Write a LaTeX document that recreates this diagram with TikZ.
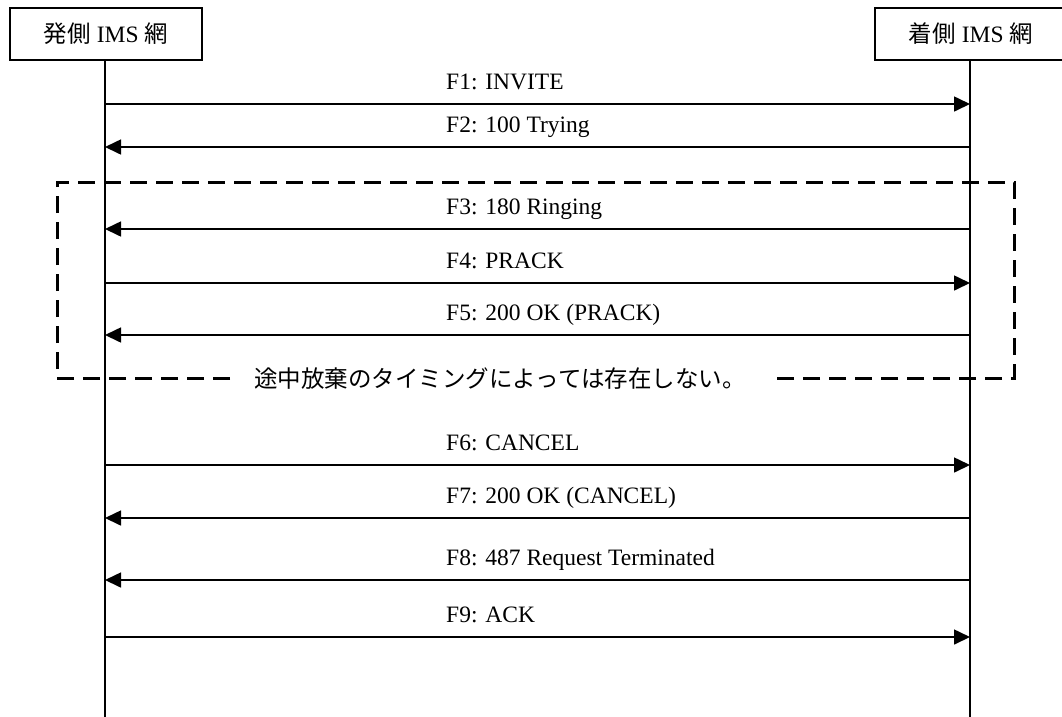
\documentclass[tikz,border=0pt]{standalone}
\usepackage{fontspec}
\setmainfont{Liberation Serif}
\newfontfamily\cjk{Noto Sans CJK JP}
\usetikzlibrary{arrows.meta}
\begin{document}
\begin{tikzpicture}[x=1pt,y=-1pt,
  hdr/.style={draw,line width=1.6pt,minimum width=192pt,minimum height=52pt,inner sep=0pt,font=\fontsize{23.5}{26}\selectfont},
  life/.style={line width=1.6pt},
  msg/.style={line width=1.6pt,-{Triangle[length=16pt,width=15pt]}},
  lbl/.style={font=\fontsize{23.5}{26}\selectfont,inner sep=0pt,anchor=base west},
  dbox/.style={line width=3pt,dash pattern=on 17pt off 9pt}]
\useasboundingbox (0,0) rectangle (1062,716);
\clip (0,0) rectangle (1062,716);
\node[hdr] (A) at (106,34) {{\cjk 発側} IMS {\cjk 網}};
\node[hdr] (B) at (971,34) {{\cjk 着側} IMS {\cjk 網}};
\coordinate (Aend) at (105,720);
\coordinate (Bend) at (970,720);
\draw[life] (A.south -| Aend) -- (Aend);
\draw[life] (B.south -| Bend) -- (Bend);
% messages
\foreach \y/\dir/\t in {104/r/F1: INVITE,147/l/F2: 100 Trying,229/l/F3: 180 Ringing,283/r/F4: PRACK,335/l/F5: 200 OK (PRACK),465/r/F6: CANCEL,518/l/F7: 200 OK (CANCEL),580/l/F8: 487 Request Terminated,637/r/F9: ACK}{
  \coordinate (L\y) at (105,\y);
  \coordinate (R\y) at (970,\y);
  \if r\dir
    \draw[msg] (L\y) -- (R\y);
  \else
    \draw[msg] (R\y) -- (L\y);
  \fi
  \node[lbl] (T\y) at (446,{\y-15}) {\t};
}
% dashed box
\node[font=\fontsize{23.5}{26}\selectfont\cjk,inner sep=0pt] (note) at (500,379) {途中放棄のタイミングによっては存在しない。};
\coordinate (c1) at (57,182);
\coordinate (c2) at (1014,182);
\coordinate (c3) at (1014,378);
\coordinate (c4) at (57,378);
\draw[dbox] (230,378) -- (c4) -- (c1) -- (c2) -- (c3) -- (777,378);
\end{tikzpicture}
\end{document}
